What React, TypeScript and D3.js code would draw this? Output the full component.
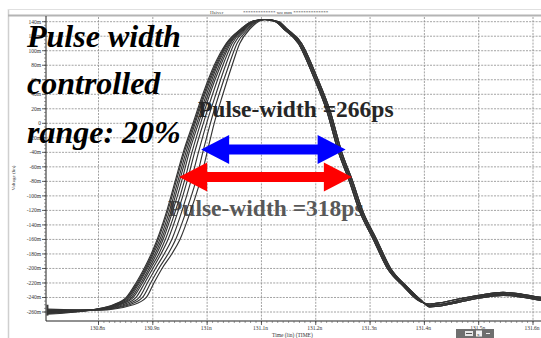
import React from 'react';
import * as d3 from 'd3';

const W = 541;
const H = 338;

// Axis ticks
const X_TICKS = [130.8, 130.9, 131.0, 131.1, 131.2, 131.3, 131.4, 131.5, 131.6];
const X_TICK_LABELS = ['130.8n', '130.9n', '131n', '131.1n', '131.2n', '131.3n', '131.4n', '131.5n', '131.6n'];
const Y_TICKS = [140, 120, 100, 80, 60, 40, 20, 0, -20, -40, -60, -80, -100, -120, -140, -160, -180, -200, -220, -240, -260];
const Y_TICK_LABELS = ['140m', '120m', '100m', '80m', '60m', '40m', '20m', '0', '-20m', '-40m', '-60m', '-80m', '-100m',
  '-120m', '-140m', '-160m', '-180m', '-200m', '-220m', '-240m', '-260m'];

// Waveforms (time in ns, voltage in mV)
const START_NS = 130.706;
const BASE_NS = 130.8;
const START_MV = [-263, -262, -261.5, -261, -260, -259.5, -259, -258, -257, -256];
const BASE_MV = [-255.5, -255.5, -256, -256, -256, -256.5, -256.5, -257, -257, -257.5];
const START_MARK_MV = [-250, -265];

const RISE_LEVELS_MV = [-250, -240, -220, -200, -180, -160, -120, -80, -40, 0, 40, 80, 110, 130, 140];
const RISE_NS_A = [130.827, 130.851, 130.869, 130.884, 130.897, 130.908, 130.926, 130.941, 130.956, 130.974, 130.992, 131.013, 131.035, 131.062, 131.081];
const RISE_NS_B = [130.829, 130.853, 130.871, 130.886, 130.899, 130.910, 130.928, 130.943, 130.958, 130.976, 130.994, 131.015, 131.036, 131.063, 131.081];
const RISE_NS_C = [130.831, 130.855, 130.873, 130.888, 130.901, 130.913, 130.931, 130.946, 130.961, 130.978, 130.996, 131.017, 131.037, 131.064, 131.082];
const RISE_NS_D = [130.834, 130.858, 130.875, 130.890, 130.904, 130.916, 130.934, 130.949, 130.964, 130.981, 130.999, 131.019, 131.039, 131.066, 131.083];
const RISE_NS_E = [130.837, 130.861, 130.878, 130.893, 130.907, 130.919, 130.937, 130.953, 130.967, 130.984, 131.002, 131.022, 131.041, 131.067, 131.084];
const RISE_NS_F = [130.840, 130.864, 130.881, 130.896, 130.911, 130.923, 130.942, 130.958, 130.972, 130.988, 131.005, 131.025, 131.043, 131.068, 131.086];
const RISE_NS_G = [130.845, 130.869, 130.885, 130.900, 130.915, 130.928, 130.947, 130.963, 130.977, 130.993, 131.010, 131.029, 131.046, 131.070, 131.087];
const RISE_NS_H = [130.851, 130.875, 130.890, 130.905, 130.921, 130.935, 130.954, 130.970, 130.984, 130.999, 131.016, 131.034, 131.050, 131.073, 131.089];
const RISE_NS_I = [130.857, 130.881, 130.896, 130.911, 130.928, 130.942, 130.962, 130.979, 130.992, 131.006, 131.022, 131.040, 131.055, 131.076, 131.091];
const RISE_NS_J = [130.864, 130.888, 130.902, 130.917, 130.935, 130.950, 130.970, 130.987, 131.000, 131.013, 131.029, 131.046, 131.060, 131.079, 131.094];
const RISE_NS = [RISE_NS_A, RISE_NS_B, RISE_NS_C, RISE_NS_D, RISE_NS_E, RISE_NS_F, RISE_NS_G, RISE_NS_H, RISE_NS_I, RISE_NS_J];

const PEAK_MV = 143;
const PEAK_NS = [131.104, 131.106, 131.108];

const FALL_LEVELS_MV = [140, 130, 110, 64, 18, -40, -80, -120, -160, -200, -225, -243];
const FALL_NS_1 = [131.126, 131.141, 131.168, 131.196, 131.220, 131.242, 131.262, 131.280, 131.306, 131.332, 131.362, 131.387];
const FALL_NS_2 = [131.129, 131.144, 131.171, 131.199, 131.223, 131.245, 131.265, 131.283, 131.309, 131.335, 131.365, 131.390];
const FALL_NS_3 = [131.132, 131.147, 131.174, 131.202, 131.226, 131.248, 131.268, 131.286, 131.312, 131.338, 131.368, 131.393];
const FALL_NS = [FALL_NS_1, FALL_NS_2, FALL_NS_3];

const TAIL_NS = [131.41, 131.435, 131.46, 131.5, 131.545, 131.58, 131.615];
const TAIL_MV_1 = [-249, -246.5, -242.5, -237, -233, -235.5, -240];
const TAIL_MV_2 = [-251, -249, -245, -239, -235, -237.5, -242];
const TAIL_MV_3 = [-253, -251, -247, -241, -237, -239.5, -244];
const TAIL_MV = [TAIL_MV_1, TAIL_MV_2, TAIL_MV_3];

const FALL_GROUP = [0, 1, 2, 0, 1, 2, 1, 0, 2, 1];

// Pulse-width annotations
const PULSE_WIDTHS_PS = [266, 318];
const PULSE_CENTERS_NS = [131.122, 131.1075];
const PULSE_LEVELS_MV = [-36, -74];
const PULSE_COLORS = ['#0000ff', '#ff0000'];

const FONT = "'Liberation Serif', 'Times New Roman', serif";

const x = d3.scaleLinear().domain([130.8, 131.6]).range([98.5, 533]);
const y = d3.scaleLinear().domain([140, -260]).range([21.7, 312]);

const PLOT = { left: 46, right: 541, top: 16, bottom: 321 };

type Pt = [number, number];

function curvePoints(i: number): Pt[] {
  const g = FALL_GROUP[i];
  const pts: Pt[] = [[START_NS, START_MV[i]], [BASE_NS, BASE_MV[i]]];
  RISE_LEVELS_MV.forEach((v, k) => pts.push([RISE_NS[i][k], v]));
  pts.push([PEAK_NS[g], PEAK_MV]);
  FALL_LEVELS_MV.forEach((v, k) => pts.push([FALL_NS[g][k], v]));
  TAIL_NS.forEach((t, k) => pts.push([t, TAIL_MV[g][k]]));
  return pts;
}

const line = d3.line<Pt>().x(d => x(d[0])).y(d => y(d[1])).curve(d3.curveMonotoneX);

function arrowPath(x0: number, x1: number, yc: number, headLen: number, headHalf: number, shaftHalf: number) {
  return [
    `M${x0},${yc}`,
    `L${x0 + headLen},${yc - headHalf}`,
    `L${x0 + headLen},${yc - shaftHalf}`,
    `L${x1 - headLen},${yc - shaftHalf}`,
    `L${x1 - headLen},${yc - headHalf}`,
    `L${x1},${yc}`,
    `L${x1 - headLen},${yc + headHalf}`,
    `L${x1 - headLen},${yc + shaftHalf}`,
    `L${x0 + headLen},${yc + shaftHalf}`,
    `L${x0 + headLen},${yc + headHalf}`,
    'Z',
  ].join(' ');
}

export default function App() {
  const minorY = y.ticks(80).filter(v => y(v) >= PLOT.top && y(v) <= PLOT.bottom);
  const minorX = x.ticks(90).filter(t => x(t) >= PLOT.left && x(t) <= PLOT.right);

  const arrows = PULSE_WIDTHS_PS.map((w, i) => {
    const half = w / 1000 / 2;
    return {
      x0: x(PULSE_CENTERS_NS[i] - half),
      x1: x(PULSE_CENTERS_NS[i] + half),
      yc: y(PULSE_LEVELS_MV[i]),
      color: PULSE_COLORS[i],
    };
  });

  return (
    <svg width={W} height={H} viewBox={`0 0 ${W} ${H}`}
      style={{ position: 'absolute', left: 0, top: 0, display: 'block', background: '#fff' }}
      fontFamily={FONT}>
      <rect x={0} y={0} width={W} height={H} fill="#fff" />
      {/* window frame */}
      <line x1={8.5} y1={9} x2={8.5} y2={H} stroke="#cfcfcf" strokeWidth={1.5} />
      <line x1={8} y1={9.5} x2={W} y2={9.5} stroke="#e0e0e0" strokeWidth={1} />
      <line x1={8} y1={15.5} x2={W} y2={15.5} stroke="#b4b4b4" strokeWidth={2} />
      <text x={210} y={14} fontSize={5} fill="#444">Hsiver</text>
      <text x={243} y={14} fontSize={5} fill="#333">************* wo mm **************</text>

      {/* grid */}
      {X_TICKS.map(t => (
        <line key={'gx' + t} x1={x(t)} x2={x(t)} y1={PLOT.top + 1} y2={PLOT.bottom}
          stroke="#8c8c8c" strokeWidth={0.8} strokeDasharray="2,1.2" />
      ))}
      {Y_TICKS.map(v => (
        <line key={'gy' + v} x1={PLOT.left} x2={PLOT.right} y1={y(v)} y2={y(v)}
          stroke="#8c8c8c" strokeWidth={0.8} strokeDasharray="2,1.2" />
      ))}

      {/* axes */}
      <line x1={PLOT.left} x2={PLOT.left} y1={PLOT.top} y2={PLOT.bottom} stroke="#222" strokeWidth={1} />
      <line x1={PLOT.left} x2={PLOT.right} y1={PLOT.bottom} y2={PLOT.bottom} stroke="#222" strokeWidth={1} />
      {minorY.map(v => (
        <line key={'my' + v} x1={PLOT.left - 2} x2={PLOT.left} y1={y(v)} y2={y(v)} stroke="#555" strokeWidth={0.6} />
      ))}
      {Y_TICKS.map((v, i) => (
        <g key={'yt' + v}>
          <line x1={PLOT.left - 4} x2={PLOT.left} y1={y(v)} y2={y(v)} stroke="#333" strokeWidth={0.8} />
          <text x={PLOT.left - 5} y={y(v) + 1.8} fontSize={5.5} textAnchor="end" fill="#333">{Y_TICK_LABELS[i]}</text>
        </g>
      ))}
      {minorX.map(t => (
        <line key={'mx' + t} x1={x(t)} x2={x(t)} y1={PLOT.bottom} y2={PLOT.bottom + 2} stroke="#555" strokeWidth={0.6} />
      ))}
      {X_TICKS.map((t, i) => (
        <g key={'xt' + t}>
          <line x1={x(t)} x2={x(t)} y1={PLOT.bottom} y2={PLOT.bottom + 4} stroke="#333" strokeWidth={0.8} />
          <text x={x(t) - 1} y={330} fontSize={5.5} textAnchor="middle" fill="#333">{X_TICK_LABELS[i]}</text>
        </g>
      ))}
      <text x={272} y={336.5} fontSize={5.5} fill="#333">Time (lin) (TIME)</text>
      <text transform="translate(15,178) rotate(-90)" fontSize={5} textAnchor="middle" fill="#333">Voltage (lin)</text>

      {/* toolbar widget */}
      <rect x={456} y={329} width={38} height={9} fill="#6f6f6f" />
      <rect x={465} y={331} width={8} height={5} fill="#e8e8e8" />
      <rect x={466} y={333} width={6} height={1} fill="#555" />
      <rect x={476} y={330.5} width={6} height={6} fill="#f4f4f4" />
      <text x={477} y={335.5} fontSize={5} fill="#333">x</text>
      <rect x={486} y={333} width={4} height={1} fill="#eee" />

      {/* lower annotation sits beneath the waveforms */}
      <text x={168} y={216} fontSize={23.5} fontWeight="bold" fill="#585858">
        {`Pulse-width =${PULSE_WIDTHS_PS[1]}ps`}
      </text>

      {/* waveforms */}
      <line x1={x(START_NS)} x2={x(START_NS)} y1={y(START_MARK_MV[0])} y2={y(START_MARK_MV[1])}
        stroke="#3a3a3a" strokeWidth={2} />
      {RISE_NS.map((_, i) => (
        <path key={'c' + i} d={line(curvePoints(i)) || ''} fill="none" stroke="#333" strokeWidth={1.15} />
      ))}

      {/* pulse-width arrows */}
      {arrows.map((a, i) => (
        <path key={'a' + i} d={arrowPath(a.x0, a.x1, a.yc, 28, 14.5, 5)} fill={a.color} />
      ))}

      <text x={198} y={117} fontSize={23.5} fontWeight="bold" fill="#262626">
        {`Pulse-width =${PULSE_WIDTHS_PS[0]}ps`}
      </text>

      <g fontSize={32} fontWeight="bold" fontStyle="italic" fill="#000">
        <text x={27} y={47}>Pulse width</text>
        <text x={27} y={94}>controlled</text>
        <text x={27} y={143}>range: 20%</text>
      </g>
    </svg>
  );
}
